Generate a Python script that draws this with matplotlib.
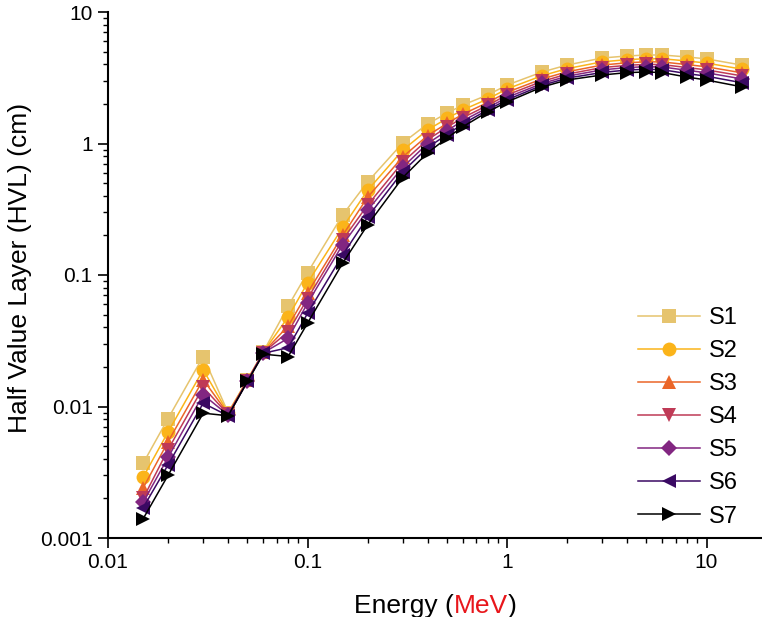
import numpy as np
import matplotlib
matplotlib.use("Agg")
import matplotlib.pyplot as plt
from matplotlib.ticker import LogLocator, NullFormatter, FixedLocator, FixedFormatter

plt.rcParams['font.family'] = ['Liberation Sans', 'DejaVu Sans']

# Energia de fotones (MeV)
energy = [0.015, 0.02, 0.03, 0.04, 0.05, 0.06, 0.08, 0.1, 0.15, 0.2, 0.3, 0.4,
          0.5, 0.6, 0.8, 1, 1.5, 2, 3, 4, 5, 6, 8, 10, 15]

# HVL (cm) para cada muestra
s1 = [0.0037, 0.0081, 0.024, 0.0090, 0.0160, 0.0260, 0.058, 0.104, 0.286, 0.51, 1.01, 1.41,
      1.70, 1.96, 2.34, 2.78, 3.50, 3.95, 4.47, 4.63, 4.71, 4.71, 4.55, 4.40, 3.95]
s2 = [0.0029, 0.0064, 0.019, 0.0089, 0.0159, 0.0259, 0.048, 0.087, 0.23, 0.44, 0.89, 1.27,
      1.55, 1.80, 2.18, 2.60, 3.28, 3.71, 4.18, 4.34, 4.42, 4.41, 4.24, 4.09, 3.68]
s3 = [0.0024, 0.0054, 0.016, 0.0088, 0.0158, 0.0258, 0.041, 0.073, 0.20, 0.39, 0.79, 1.15,
      1.42, 1.67, 2.05, 2.45, 3.10, 3.51, 3.95, 4.11, 4.18, 4.17, 3.98, 3.83, 3.45]
s4 = [0.0020, 0.0047, 0.014, 0.0087, 0.0157, 0.0257, 0.037, 0.066, 0.185, 0.34, 0.72, 1.07,
      1.33, 1.57, 1.95, 2.34, 2.97, 3.37, 3.78, 3.93, 4.00, 3.98, 3.78, 3.63, 3.27]
s5 = [0.00187, 0.0041, 0.0123, 0.0086, 0.0156, 0.0256, 0.033, 0.061, 0.17, 0.31, 0.66, 1.00,
      1.25, 1.49, 1.87, 2.24, 2.86, 3.25, 3.63, 3.78, 3.84, 3.82, 3.60, 3.45, 3.10]
s6 = [0.0017, 0.0036, 0.0106, 0.0085, 0.0155, 0.0254, 0.028, 0.051, 0.142, 0.275, 0.61, 0.93,
      1.17, 1.41, 1.80, 2.15, 2.77, 3.14, 3.47, 3.62, 3.67, 3.64, 3.40, 3.25, 2.90]
s7 = [0.0014, 0.0030, 0.0089, 0.0085, 0.0155, 0.0250, 0.024, 0.043, 0.123, 0.24, 0.55, 0.85,
      1.10, 1.34, 1.74, 2.07, 2.69, 3.04, 3.32, 3.46, 3.50, 3.46, 3.20, 3.04, 2.70]

labels = ['S1', 'S2', 'S3', 'S4', 'S5', 'S6', 'S7']
series = [s1, s2, s3, s4, s5, s6, s7]
colors = ['#E6C46E', '#FBB41A', '#EB6628', '#BF3A56', '#822681', '#3A0963', '#000000']
markers = ['s', 'o', '^', 'v', 'D', '<', '>']
sizes = [9.5, 10, 10, 10, 8.5, 10, 10]

W, H = 762, 617
fig = plt.figure(figsize=(W / 100, H / 100), dpi=100)
ax = fig.add_axes([108 / W, 1 - 538 / H, 1 - 108 / W, (538 - 12) / H])

for y, lab, c, m, ms in zip(series, labels, colors, markers, sizes):
    ax.plot(energy, y, color=c, marker=m, markersize=ms, linewidth=1.1,
            markeredgewidth=0, label=lab)

ax.set_xscale('log')
ax.set_yscale('log')
ax.set_xlim(0.01, 18.97)
ax.set_ylim(0.001, 10)

ax.yaxis.set_major_locator(FixedLocator([0.001, 0.01, 0.1, 1, 10]))
ax.yaxis.set_major_formatter(FixedFormatter(['0.001', '0.01', '0.1', '1', '10']))
ax.xaxis.set_major_locator(FixedLocator([0.01, 0.1, 1, 10]))
ax.xaxis.set_major_formatter(FixedFormatter(['0.01', '0.1', '1', '10']))
ax.xaxis.set_minor_locator(LogLocator(base=10, subs=np.arange(2, 10), numticks=20))
ax.yaxis.set_minor_locator(LogLocator(base=10, subs=np.arange(2, 10), numticks=20))
ax.xaxis.set_minor_formatter(NullFormatter())
ax.yaxis.set_minor_formatter(NullFormatter())

for side in ['top', 'right']:
    ax.spines[side].set_visible(False)
for side in ['left', 'bottom']:
    ax.spines[side].set_linewidth(1.5)

ax.tick_params(which='major', direction='out', length=7, width=1.2, labelsize=15, pad=4)
ax.tick_params(which='minor', direction='out', length=3.5, width=1.0)

leg = ax.legend(loc='lower right', bbox_to_anchor=(0.985, -0.007), frameon=False,
                fontsize=17, handlelength=2.6, labelspacing=0.47, handletextpad=0.4,
                borderaxespad=0.2)

fig.text(20 / W, 1 - 268 / H, 'Half Value Layer (HVL) (cm)', rotation=90,
         ha='center', va='center', fontsize=19)

# etiqueta del eje x con "MeV" en rojo
fig.canvas.draw()
r = fig.canvas.get_renderer()
parts = [('Energy (', 'black'), ('MeV', '#E8161B'), (')', 'black')]
texts = [fig.text(0, 4 / H, s, color=c, fontsize=19, va='baseline') for s, c in parts]
widths = [t.get_window_extent(r).width for t in texts]
x = 435 - sum(widths) / 2
for t, w in zip(texts, widths):
    t.set_x(x / W)
    x += w

fig.savefig('out.png', dpi=100)
